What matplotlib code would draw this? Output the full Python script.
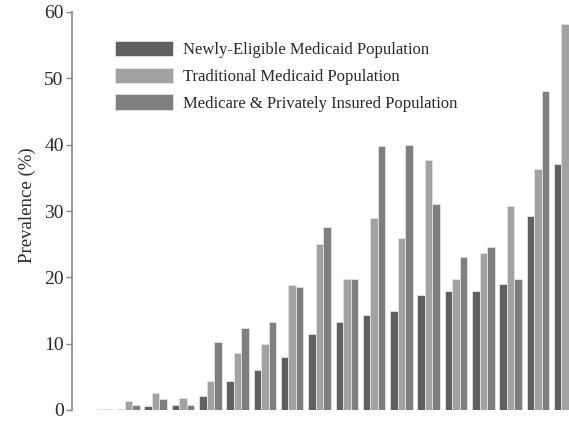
import numpy as np
import matplotlib
matplotlib.use("Agg")
import matplotlib.pyplot as plt

series_names = ["Newly-Eligible Medicaid Population",
                "Traditional Medicaid Population",
                "Medicare & Privately Insured Population"]
newly_eligible = [0.0, 0.2, 0.6, 0.7, 2.1, 4.3, 6.0, 8.0, 11.5, 13.3, 14.3, 14.9, 17.3, 17.9, 18.0, 19.0, 29.3, 37.1]
traditional    = [0.2, 1.3, 2.5, 1.8, 4.4, 8.6, 10.0, 18.8, 25.0, 19.8, 29.0, 26.0, 37.7, 19.8, 23.7, 30.8, 36.3, 58.2]
medicare_priv  = [0.1, 0.7, 1.6, 0.7, 10.3, 12.4, 13.3, 18.6, 27.6, 19.8, 39.8, 40.0, 31.1, 23.1, 24.5, 19.7, 48.1, np.nan]
colors = ["#606060", "#a2a2a2", "#7f7f7f"]
yticks = [0, 10, 20, 30, 40, 50, 60]

W, H = 569, 421
fig = plt.figure(figsize=(W / 100, H / 100), dpi=100)
ax = fig.add_axes([72 / W, (H - 410) / H, (W - 72) / W, 398 / H])

x = np.arange(len(newly_eligible))
w = 0.2748
for k, (vals, c, name) in enumerate(zip([newly_eligible, traditional, medicare_priv], colors, series_names)):
    ax.bar(x + (k - 1) * w, vals, width=w, color=c, edgecolor="#e4e4e4",
           linewidth=0.6, label=name)

ax.set_xlim(-1.065, 17.14)
ax.set_ylim(0, 60)
ax.set_yticks(yticks)
ax.set_xticks([])
for s in ["top", "right", "bottom"]:
    ax.spines[s].set_visible(False)
ax.spines["left"].set_color("#888888")
ax.spines["left"].set_linewidth(1.2)
ax.spines["left"].set_bounds(0, 60)
ax.tick_params(axis="y", direction="out", length=4, width=1.0, color="#888888",
               labelsize=14, labelcolor="#2a2a2a", pad=2)
for lab in ax.get_yticklabels():
    lab.set_fontfamily("Liberation Serif")
ax.set_ylabel("Prevalence (%)", fontfamily="Liberation Serif", fontsize=13.5,
              color="#2a2a2a")
ax.yaxis.set_label_coords(-36 / (W - 72), 0.515)
ax.patch.set_alpha(0)

leg = fig.legend(loc="upper left", bbox_to_anchor=(115 / W, 1 - 41 / H),
                 frameon=False, prop={"family": "Liberation Serif", "size": 12},
                 handlelength=3.5, handleheight=1.05, handletextpad=0.6,
                 labelspacing=0.55, borderpad=0, borderaxespad=0)
for t in leg.get_texts():
    t.set_color("#2a2a2a")

fig.savefig("out.png", dpi=100)
